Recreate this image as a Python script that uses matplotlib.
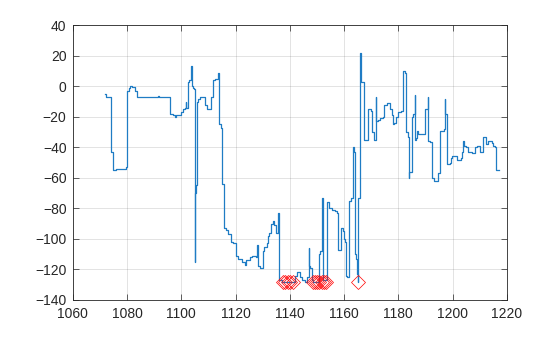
import numpy as np
import matplotlib
matplotlib.use('Agg')
import matplotlib.pyplot as plt

# step trace: x where each level starts, and the level
step_x = [1071.9, 1072.4, 1074.1, 1074.8, 1076.0, 1078.0, 1079.5, 1080.0, 1080.8, 1081.0,
          1082.0, 1082.8, 1083.7, 1091.5, 1091.8, 1095.9, 1096.8, 1097.6, 1098.2, 1099.0,
          1100.0, 1100.8, 1101.5, 1101.7, 1101.9, 1102.5, 1103.0, 1103.7, 1103.9, 1104.2,
          1104.6, 1104.9, 1105.1, 1105.6, 1105.8, 1106.2, 1106.8, 1108.6, 1108.8, 1109.5,
          1110.9, 1111.6, 1112.6, 1113.6, 1113.9, 1114.6, 1115.0, 1115.6, 1115.8, 1116.6,
          1117.2, 1118.3, 1118.9, 1120.0, 1120.8, 1122.2, 1123.5, 1124.0, 1125.2, 1126.0,
          1127.5, 1128.0, 1128.2, 1129.0, 1130.0, 1130.6, 1131.5, 1131.9, 1132.5, 1133.2,
          1133.8, 1134.3, 1134.9, 1135.8, 1136.0, 1137.0, 1142.0, 1142.8, 1143.6, 1144.5,
          1145.5, 1146.5, 1147.0, 1147.2, 1147.6, 1148.0, 1148.5, 1150.9, 1151.3, 1151.9,
          1152.1, 1153.8, 1154.6, 1155.4, 1156.6, 1157.3, 1157.9, 1159.0, 1159.6, 1160.0,
          1160.3, 1160.8, 1161.2, 1162.0, 1162.6, 1163.2, 1163.6, 1164.1, 1164.5, 1164.9,
          1165.1, 1165.3, 1165.8, 1166.0, 1166.2, 1167.2, 1169.0, 1169.9, 1170.2, 1171.0,
          1171.6, 1171.8, 1172.4, 1173.4, 1174.4, 1174.9, 1175.8, 1177.0, 1177.5, 1178.1,
          1178.5, 1179.0, 1179.9, 1181.0, 1181.7, 1182.6, 1183.0, 1183.5, 1183.9, 1184.1,
          1185.2, 1185.6, 1186.0, 1186.2, 1186.6, 1186.9, 1187.4, 1189.7, 1190.0, 1190.9,
          1191.1, 1191.8, 1192.5, 1193.0, 1194.6, 1195.5, 1196.8, 1197.1, 1197.3, 1197.8,
          1198.1, 1198.9, 1199.4, 1199.8, 1201.8, 1203.1, 1203.5, 1203.9, 1204.1, 1205.1,
          1205.8, 1207.1, 1208.2, 1209.1, 1210.0, 1211.1, 1211.3, 1212.4, 1213.0, 1214.4,
          1215.0, 1215.7, 1216.1, 1217.0]
step_y = [-5, -7, -43, -55, -54.5, -54, -53, -3, -1, 0,
          -0.5, -3, -7, -6.5, -7, -18, -19, -20, -19, -18.5,
          -17, -15, -14, -10, -14, 3, 4, 13, 0, -1,
          -2, -115, -70, -65, -10, -8, -7, -7.5, -12, -15,
          -7, 4, 5, 9, -25, -27, -64, -65, -93, -94,
          -97, -102, -103, -111, -113, -115, -117, -114, -112, -111,
          -112, -104, -118, -119, -108, -105, -103, -98, -96, -90,
          -88, -91, -96, -83, -127, -128, -124, -122, -125, -127,
          -128, -125, -106, -118, -119, -127, -128, -110, -108, -73,
          -127, -76, -80, -81, -82, -83, -107, -93, -95, -100,
          -102, -124, -125, -75, -73, -40, -43, -110, -113, -123,
          -128, -73, -70, 22, 3, -35, -15, -16, -30, -35,
          -7, -23, -22, -21, -20, -12, -11, -15, -19, -25,
          -24, -20, -17, -16, 10, 9, -30, -33, -60, -56,
          -20, -18, -6, -35, -34, -29, -31, -18, -15, -7,
          -36, -36.5, -60, -62, -57, -29, -28, -8, -18, -19,
          -51, -50, -47, -46, -48, -47, -43, -36, -39, -40,
          -43, -44, -40, -39, -43, -42, -33, -38, -36, -37,
          -39, -40, -55, -55]

# flagged points
mark_x = [1137.6, 1138.4, 1139.3, 1140.1, 1141.0,
          1148.5, 1149.3, 1150.1, 1150.9, 1151.7, 1152.5, 1153.3, 1165.0]
mark_y = [-128] * len(mark_x)

plt.rcParams['font.family'] = ['Liberation Sans', 'DejaVu Sans']

fig = plt.figure(figsize=(5.6, 3.37), dpi=100)
ax = fig.add_axes([0.13, 0.11, 0.775, 0.815])

ax.plot(step_x, step_y, drawstyle='steps-post', color='#1f7cc4', lw=0.9)
ax.plot(mark_x, mark_y, linestyle='none', marker='D', markersize=7,
        markerfacecolor='none', markeredgecolor='#FF0000', markeredgewidth=0.5)

ax.set_xlim(1060, 1220)
ax.set_ylim(-140, 40)
ax.set_xticks(np.arange(1060, 1221, 20))
ax.set_yticks(np.arange(-140, 41, 20))
ax.grid(True, color='#262626', alpha=0.15, lw=0.6)
ax.set_axisbelow(True)
ax.tick_params(direction='in', top=True, right=True, length=4, width=0.5,
               colors='#262626', labelsize=10)
ax.tick_params(axis='x', pad=5)
ax.tick_params(axis='y', pad=4.5)
for s in ax.spines.values():
    s.set_linewidth(0.6)
    s.set_color('#262626')

fig.savefig('out.png', dpi=100)
